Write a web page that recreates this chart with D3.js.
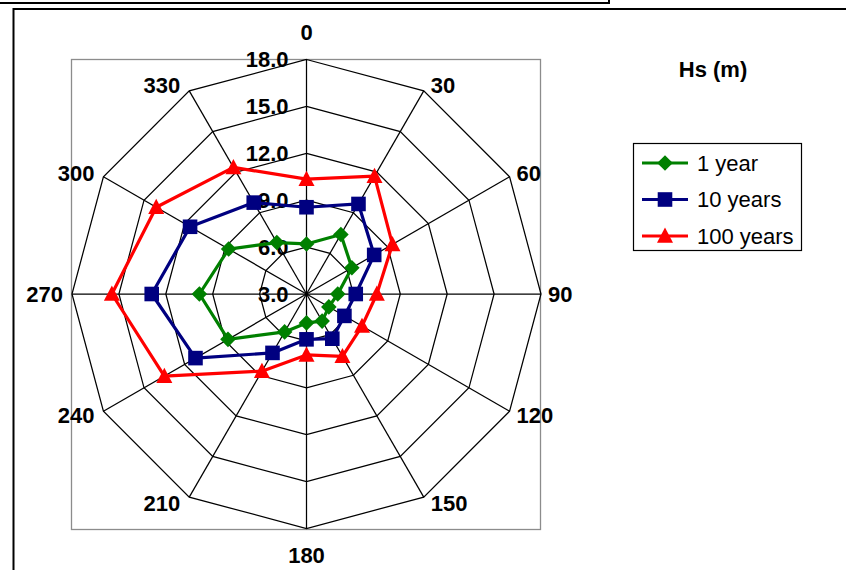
<!DOCTYPE html>
<html>
<head>
<meta charset="utf-8">
<script src="https://cdn.jsdelivr.net/npm/d3@7"></script>
<style>
  html, body { margin: 0; padding: 0; background: #fff; }
  svg { display: block; }
  text { font-family: "Liberation Sans", Arial, sans-serif; }
</style>
</head>
<body>
<svg id="chart" width="846" height="570"></svg>
<script>
// ---- data ----
const directions = [0, 30, 60, 90, 120, 150, 180, 210, 240, 270, 300, 330];
const oneYear     = [6.2, 7.4, 6.35, 5.0, 4.65, 5.0, 4.85, 5.8, 8.8, 9.85, 8.75, 6.8];
const tenYears    = [8.55, 9.65, 8.0, 6.15, 5.8, 6.3, 5.9, 7.35, 11.2, 12.9, 11.6, 9.75];
const hundredYears= [10.35, 11.7, 9.35, 7.5, 7.1, 7.6, 6.9, 8.7, 13.5, 15.45, 14.1, 12.35];
const radialTicks = [3, 6, 9, 12, 15, 18];
const seriesNames = ["1 year", "10 years", "100 years"];
const chartTitle = "Hs (m)";

// ---- layout ----
const svg = d3.select("#chart");
const cx = 306.5, cy = 294, R = 234.5;
const rScale = d3.scaleLinear().domain([3, 18]).range([0, R]);
const aScale = d3.scaleLinear().domain([0, 360]).range([0, 2 * Math.PI]);
const px = (deg, r) => cx + Math.sin(aScale(deg)) * r;
const py = (deg, r) => cy - Math.cos(aScale(deg)) * r;

// outer decorations
svg.append("path").attr("d", "M0,3 H609 V0").attr("fill", "none")
  .attr("stroke", "#000").attr("stroke-width", 2);
svg.append("path").attr("d", "M13.5,575 V9 H850").attr("fill", "none")
  .attr("stroke", "#000").attr("stroke-width", 2);

// plot area border
svg.append("rect").attr("x", cx - R - 0.5).attr("y", cy - R)
  .attr("width", 2 * R).attr("height", 2 * R + 1)
  .attr("fill", "none").attr("stroke", "#8c8c8c").attr("stroke-width", 1.3);

// grid rings
const g = svg.append("g");
radialTicks.slice(1).forEach(t => {
  const pts = directions.map(d => [px(d, rScale(t)), py(d, rScale(t))]);
  g.append("path").attr("d", d3.line()(pts) + "Z")
    .attr("fill", "none").attr("stroke", "#000").attr("stroke-width", 1.25);
});
// spokes
directions.forEach(d => {
  g.append("line").attr("x1", cx).attr("y1", cy)
    .attr("x2", px(d, R)).attr("y2", py(d, R))
    .attr("stroke", "#000").attr("stroke-width", 1.25);
});

// direction labels
directions.forEach(d => {
  const vx = px(d, R), vy = py(d, R);
  const s = Math.sin(aScale(d)), c = Math.cos(aScale(d));
  let x, y, anchor;
  if (Math.abs(s) < 1e-6) {
    anchor = "middle"; x = vx; y = vy + (c > 0 ? -27 : 27);
  } else if (s > 0) {
    anchor = "start"; x = vx + 7; y = vy - c * 7;
  } else {
    anchor = "end"; x = vx - 9; y = vy - c * 7;
  }
  svg.append("text").attr("x", x).attr("y", y).attr("dy", "0.36em")
    .attr("text-anchor", anchor).attr("font-size", 22).attr("font-weight", "bold")
    .text(d);
});

// radial tick labels
radialTicks.forEach(t => {
  svg.append("text").attr("x", cx - 18).attr("y", cy - rScale(t)).attr("dy", "0.36em")
    .attr("text-anchor", "end").attr("font-size", 22).attr("font-weight", "bold")
    .text(t.toFixed(1));
});

// markers
const diamond = s => `M0,${-s}L${s},0L0,${s}L${-s},0Z`;
const square = s => `M${-s},${-s}H${s}V${s}H${-s}Z`;
const triangle = s => `M0,${-s * 1.05}L${s},${s * 0.85}L${-s},${s * 0.85}Z`;

const series = [
  { name: seriesNames[0], values: oneYear, color: "#008000", marker: diamond(7.8) },
  { name: seriesNames[1], values: tenYears, color: "#000080", marker: square(7.3) },
  { name: seriesNames[2], values: hundredYears, color: "#ff0000", marker: triangle(8) }
];

series.forEach(s => {
  const pts = directions.map((d, i) => [px(d, rScale(s.values[i])), py(d, rScale(s.values[i]))]);
  svg.append("path").attr("d", d3.line()(pts) + "Z")
    .attr("fill", "none").attr("stroke", s.color).attr("stroke-width", 3.2)
    .attr("stroke-linejoin", "round");
  svg.append("g").selectAll("path").data(pts).join("path")
    .attr("transform", p => `translate(${p[0]},${p[1]})`)
    .attr("d", s.marker).attr("fill", s.color);
});

// title
svg.append("text").attr("x", 713).attr("y", 69).attr("dy", "0.36em")
  .attr("text-anchor", "middle").attr("font-size", 22).attr("font-weight", "bold")
  .text(chartTitle);

// legend
const lg = svg.append("g");
lg.append("rect").attr("x", 633.5).attr("y", 143.5).attr("width", 168).attr("height", 107)
  .attr("fill", "#fff").attr("stroke", "#000").attr("stroke-width", 1.2);
series.forEach((s, i) => {
  const y = 163 + i * 36.5;
  lg.append("line").attr("x1", 642).attr("x2", 688).attr("y1", y).attr("y2", y)
    .attr("stroke", s.color).attr("stroke-width", 3.2);
  lg.append("path").attr("transform", `translate(665,${y})`).attr("d", s.marker).attr("fill", s.color);
  lg.append("text").attr("x", 697).attr("y", y).attr("dy", "0.36em")
    .attr("font-size", 22).text(s.name);
});
</script>
</body>
</html>
